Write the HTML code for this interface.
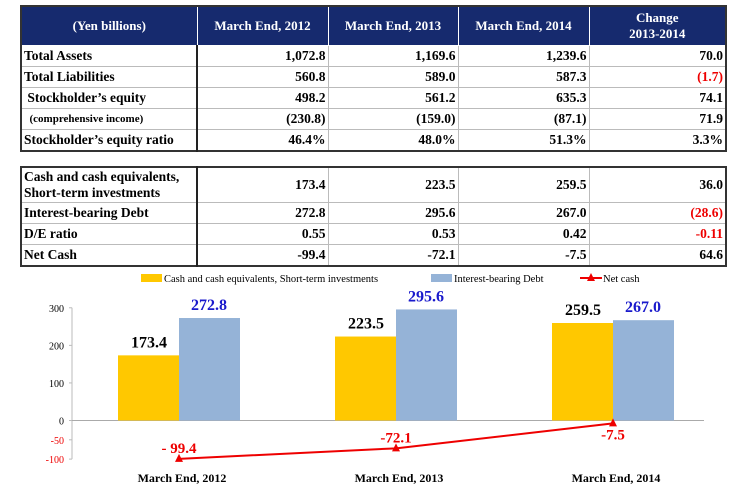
<!DOCTYPE html>
<html><head><meta charset="utf-8"><style>
body{margin:0;width:750px;height:486px;background:#fff;font-family:"Liberation Serif",serif;overflow:hidden;position:relative}
table{position:absolute;left:20px;border-collapse:collapse;table-layout:fixed;font-weight:bold;font-size:13.5px;color:#000}
td,th{border:1px solid #bbb;padding:0 2px;height:20px;white-space:nowrap}
th{background:#162a6e;color:#fff;font-size:13px;border:1px solid #fff;text-align:center}
td.n{text-align:right}
.red{color:#e00}
table{border:2px solid #333}
td:first-child{border-right:2px solid #222}
</style></head><body>
<table style="top:5px;width:705px">
<colgroup><col style="width:176px"><col style="width:131px"><col style="width:130px"><col style="width:131px"><col style="width:137px"></colgroup>
<tr style="height:39px"><th>(Yen billions)</th><th>March End, 2012</th><th>March End, 2013</th><th>March End, 2014</th><th>Change<br>2013-2014</th></tr>
<tr><td>Total Assets</td><td class="n">1,072.8</td><td class="n">1,169.6</td><td class="n">1,239.6</td><td class="n">70.0</td></tr>
<tr><td>Total Liabilities</td><td class="n">560.8</td><td class="n">589.0</td><td class="n">587.3</td><td class="n red">(1.7)</td></tr>
<tr><td>&nbsp;Stockholder’s equity</td><td class="n">498.2</td><td class="n">561.2</td><td class="n">635.3</td><td class="n">74.1</td></tr>
<tr><td style="font-size:11px">&nbsp;&nbsp;(comprehensive income)</td><td class="n">(230.8)</td><td class="n">(159.0)</td><td class="n">(87.1)</td><td class="n">71.9</td></tr>
<tr><td>Stockholder’s equity ratio</td><td class="n">46.4%</td><td class="n">48.0%</td><td class="n">51.3%</td><td class="n">3.3%</td></tr>
</table>
<table style="top:166px;width:705px">
<colgroup><col style="width:176px"><col style="width:131px"><col style="width:130px"><col style="width:131px"><col style="width:137px"></colgroup>
<tr style="height:35px"><td style="line-height:16px">Cash and cash equivalents,<br>Short-term investments</td><td class="n">173.4</td><td class="n">223.5</td><td class="n">259.5</td><td class="n">36.0</td></tr>
<tr><td>Interest-bearing Debt</td><td class="n">272.8</td><td class="n">295.6</td><td class="n">267.0</td><td class="n red">(28.6)</td></tr>
<tr><td>D/E ratio</td><td class="n">0.55</td><td class="n">0.53</td><td class="n">0.42</td><td class="n red">-0.11</td></tr>
<tr><td>Net Cash</td><td class="n">-99.4</td><td class="n">-72.1</td><td class="n">-7.5</td><td class="n">64.6</td></tr>
</table>
<svg id="chart" width="750" height="486" style="position:absolute;left:0;top:0"></svg>
<script>
const categories=["March End,  2012","March End, 2013","March End, 2014"];
const cashValues=[173.4,223.5,259.5];
const debtValues=[272.8,295.6,267.0];
const netCashValues=[-99.4,-72.1,-7.5];
const netCashLabels=["- 99.4","-72.1","-7.5"];
const yTicks=[300,200,100,0,-50,-100];
const svg=document.getElementById('chart');
const NS='http://www.w3.org/2000/svg';
function y(v){return v>=0?420.5-v*0.3757:420.5-v*0.386;}
function x(i){return 179+i*217;}
function mk(t,a,txt){const e=document.createElementNS(NS,t);for(const k in a)e.setAttribute(k,a[k]);if(txt!=null)e.textContent=txt;svg.appendChild(e);return e;}
let e;
e=mk('line',{x1:72,y1:y(300),x2:72,y2:y(-100),stroke:'#bbb'});


e=mk('line',{x1:72,y1:y(0),x2:704,y2:y(0),stroke:'#aaa'});


yTicks.forEach(v=>{
 e=mk('text',{x:64,y:y(v)+4,'text-anchor':'end','font-size':10,fill:v<0?'#e00':'#000','font-family':'Liberation Serif'},String(v));
 
 
 mk('line',{x1:69,x2:72,y1:y(v),y2:y(v),stroke:'#bbb'});
});
categories.forEach((c,i)=>{
 e=mk('rect',{x:x(i)-61,y:y(cashValues[i]),width:61,height:y(0)-y(cashValues[i]),fill:'#ffc800'});
 
 
 e=mk('rect',{x:x(i),y:y(debtValues[i]),width:61,height:y(0)-y(debtValues[i]),fill:'#95b3d7'});
 
 
 e=mk('text',{x:x(i)-30,y:y(cashValues[i])-8,'text-anchor':'middle','font-size':16,'font-weight':'bold',fill:'#000'},cashValues[i].toFixed(1));
 
 
 e=mk('text',{x:x(i)+30,y:y(debtValues[i])-8,'text-anchor':'middle','font-size':16,'font-weight':'bold',fill:'#1a1acc'},debtValues[i].toFixed(1));
 
 
 e=mk('text',{x:x(i)+3,y:482,'text-anchor':'middle','font-size':12,'font-weight':'bold',fill:'#000'},c);
 
 
});
e=mk('polyline',{points:netCashValues.map((v,i)=>(x(i))+','+y(v)).join(' '),fill:'none',stroke:'#e00','stroke-width':2});


netCashValues.forEach((v,i)=>{
 const px=x(i),py=y(v);
 e=mk('polygon',{points:`${px},${py-5} ${px-4},${py+3} ${px+4},${py+3}`,fill:'#e00'});
 
 
 e=mk('text',{x:px,y:i==2?py+16:py-6,'text-anchor':'middle','font-size':15,'font-weight':'bold',fill:'#e00'},netCashLabels[i]);
 
 
});
// legend
e=mk('rect',{x:141,y:274,width:21,height:8,fill:'#ffc800'});


e=mk('text',{x:164,y:282,'font-size':10.5,fill:'#000'},'Cash and cash equivalents,  Short-term investments');


e=mk('rect',{x:431,y:274,width:21,height:8,fill:'#95b3d7'});


e=mk('text',{x:454,y:282,'font-size':10.5,fill:'#000'},'Interest-bearing Debt');


e=mk('line',{x1:580,y1:278,x2:602,y2:278,stroke:'#e00','stroke-width':2});


mk('polygon',{points:'591,273 587,281 595,281',fill:'#e00'});
e=mk('text',{x:603,y:282,'font-size':10.5,fill:'#000'},'Net cash');


</script>
</body></html>
